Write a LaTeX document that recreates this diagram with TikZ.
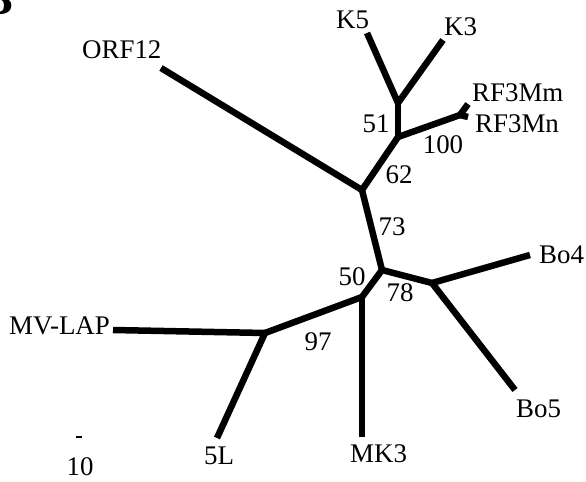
\documentclass[tikz,border=0pt]{standalone}
\usepackage{fontspec}
\setmainfont{Liberation Serif}
\begin{document}
\begin{tikzpicture}[x=1bp,y=-1bp,
  branch/.style={line width=6.5bp, line join=round},
  leaf/.style={inner sep=0pt, anchor=base west, font=\fontsize{27}{27}\selectfont},
  boot/.style={inner sep=0pt, anchor=center, font=\fontsize{27}{27}\selectfont},
  panel/.style={inner sep=0pt, anchor=base east, font=\fontsize{46}{46}\selectfont\bfseries}]
\useasboundingbox (0,0) rectangle (586,482);
% panel letter (cut off at the corner)
\node[panel] (B) at (13,15) {B};
% internal nodes and leaf ends
\coordinate (K5t) at (367,33);
\coordinate (K3t) at (443,40);
\coordinate (nK) at (398,103);
\coordinate (nR) at (398,137);
\coordinate (nRf) at (460,115);
\coordinate (Rmt) at (468,104);
\coordinate (Rnt) at (468,117);
\coordinate (nO) at (362,190);
\coordinate (ORFt) at (161,68);
\coordinate (n73) at (382,270);
\coordinate (nBo) at (432,283);
\coordinate (Bo4t) at (530,255);
\coordinate (Bo5t) at (515,390);
\coordinate (n50) at (362,297);
\coordinate (MK3t) at (362,437);
\coordinate (n97) at (265,333);
\coordinate (MVt) at (113,330);
\coordinate (L5t) at (217,438);
% branches
\draw[branch] (K5t) -- (nK) -- (K3t);
\draw[branch] (nK) -- (nR);
\draw[branch] (nR) -- (nRf);
\draw[branch] (Rmt) -- (nRf) -- (Rnt);
\draw[branch] (nR) -- (nO);
\draw[branch] (ORFt) -- (nO);
\draw[branch] (nO) -- (n73);
\draw[branch] (n73) -- (nBo);
\draw[branch] (Bo4t) -- (nBo) -- (Bo5t);
\draw[branch] (n73) -- (n50);
\draw[branch] (n50) -- (MK3t);
\draw[branch] (n50) -- (n97);
\draw[branch] (MVt) -- (n97) -- (L5t);
% leaf labels
\node[leaf] (K5) at (336,29) {K5};
\node[leaf] (K3) at (444,36) {K3};
\node[leaf] (RF3Mm) at (472,102) {RF3Mm};
\node[leaf] (RF3Mn) at (475,133) {RF3Mn};
\node[leaf] (ORF12) at (82,59) {ORF12};
\node[leaf] (MVLAP) at (9,334) {MV-LAP};
\node[leaf] (Bo4) at (539,263) {Bo4};
\node[leaf] (Bo5) at (516,417) {Bo5};
\node[leaf] (MK3) at (350,462) {MK3};
\node[leaf] (L5) at (204,464) {5L};
% bootstrap values
\node[boot] (b51) at (376,124) {51};
\node[boot] (b100) at (443,145) {100};
\node[boot] (b62) at (399,175) {62};
\node[boot] (b73) at (392,227) {73};
\node[boot] (b50) at (352,277) {50};
\node[boot] (b78) at (400,293) {78};
\node[boot] (b97) at (318,342) {97};
% scale bar
\coordinate (sbL) at (76,437);
\coordinate (sbR) at (82,437);
\draw[line width=2.5bp] (sbL) -- (sbR);
\node[inner sep=0pt, anchor=base, font=\fontsize{27}{27}\selectfont] (sbtext) at (80,475) {10};
\end{tikzpicture}
\end{document}
